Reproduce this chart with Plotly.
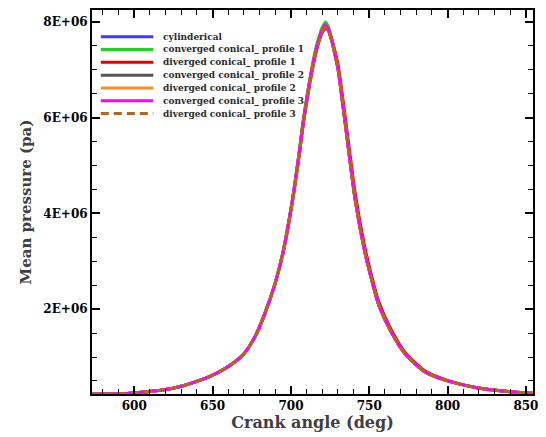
import plotly.graph_objects as go

# Crank angle samples (deg)
crank_angle = [573, 585, 600, 620, 630, 640, 650, 660, 670, 677, 683, 690, 695, 701, 705,
               708, 713, 716, 718, 720, 722, 724, 726, 728, 730, 734, 741, 747, 751, 756,
               764, 773, 786, 800, 817, 835, 850, 855]

# Mean in-cylinder pressure for each geometry, in units of 1E+06 Pa
cylinderical = [0.22, 0.23, 0.25, 0.32, 0.39, 0.49, 0.62, 0.80, 1.07, 1.42, 1.88, 2.55, 3.20, 4.29, 5.20,
                5.95, 6.95, 7.42, 7.66, 7.83, 7.92, 7.83, 7.62, 7.34, 7.03, 6.05, 4.29, 3.22, 2.68, 2.09,
                1.52, 1.06, 0.68, 0.50, 0.37, 0.29, 0.25, 0.24]
conv_profile_1 = [0.22, 0.23, 0.25, 0.32, 0.39, 0.49, 0.62, 0.80, 1.07, 1.42, 1.88, 2.55, 3.20, 4.30, 5.22,
                  5.98, 6.99, 7.47, 7.70, 7.89, 8.00, 7.90, 7.66, 7.37, 7.05, 6.06, 4.30, 3.22, 2.68, 2.09,
                  1.52, 1.06, 0.68, 0.50, 0.37, 0.29, 0.25, 0.24]
div_profile_1 = [0.22, 0.23, 0.25, 0.32, 0.39, 0.49, 0.62, 0.80, 1.07, 1.42, 1.88, 2.55, 3.18, 4.25, 5.14,
                 5.88, 6.88, 7.36, 7.60, 7.78, 7.86, 7.82, 7.64, 7.40, 7.12, 6.18, 4.42, 3.32, 2.76, 2.16,
                 1.57, 1.09, 0.70, 0.51, 0.37, 0.29, 0.25, 0.24]
conv_profile_2 = [0.22, 0.23, 0.25, 0.32, 0.39, 0.49, 0.62, 0.80, 1.07, 1.42, 1.88, 2.55, 3.20, 4.29, 5.19,
                  5.94, 6.94, 7.41, 7.64, 7.81, 7.90, 7.81, 7.61, 7.33, 7.03, 6.05, 4.29, 3.22, 2.68, 2.09,
                  1.52, 1.06, 0.68, 0.50, 0.37, 0.29, 0.25, 0.24]
div_profile_2 = [0.22, 0.23, 0.25, 0.32, 0.39, 0.49, 0.62, 0.80, 1.07, 1.42, 1.88, 2.55, 3.20, 4.29, 5.20,
                 5.95, 6.95, 7.42, 7.65, 7.82, 7.91, 7.82, 7.62, 7.34, 7.03, 6.05, 4.29, 3.22, 2.68, 2.09,
                 1.52, 1.06, 0.68, 0.50, 0.37, 0.29, 0.25, 0.24]
conv_profile_3 = [0.22, 0.23, 0.25, 0.32, 0.39, 0.49, 0.62, 0.80, 1.07, 1.42, 1.88, 2.55, 3.20, 4.29, 5.20,
                  5.95, 6.95, 7.42, 7.66, 7.84, 7.94, 7.84, 7.62, 7.34, 7.03, 6.05, 4.29, 3.22, 2.68, 2.09,
                  1.52, 1.06, 0.68, 0.50, 0.37, 0.29, 0.25, 0.24]
div_profile_3 = [0.22, 0.23, 0.25, 0.32, 0.39, 0.49, 0.62, 0.80, 1.07, 1.42, 1.88, 2.55, 3.20, 4.28, 5.18,
                 5.93, 6.92, 7.39, 7.62, 7.80, 7.89, 7.80, 7.60, 7.33, 7.03, 6.05, 4.29, 3.22, 2.68, 2.09,
                 1.52, 1.06, 0.68, 0.50, 0.37, 0.29, 0.25, 0.24]

series_names = ["cylinderical", "converged conical_ profile 1", "diverged conical_ profile 1",
                "converged conical_ profile 2", "diverged conical_ profile 2",
                "converged conical_ profile 3", "diverged conical_ profile 3"]
series_values = [cylinderical, conv_profile_1, div_profile_1, conv_profile_2,
                 div_profile_2, conv_profile_3, div_profile_3]
series_colors = ["#3b3bff", "#1ed41e", "#e00000", "#555555", "#ff8c1a", "#ff00ff", "#b5651d"]
series_dash = ["solid"] * 6 + ["8px,5px"]

y_tick_vals = [2e6, 4e6, 6e6, 8e6]
y_tick_text = ["2E+06", "4E+06", "6E+06", "8E+06"]

FONT = "DejaVu Serif"

fig = go.Figure()
for name, vals, col, dash in zip(series_names, series_values, series_colors, series_dash):
    fig.add_trace(go.Scatter(
        x=crank_angle, y=[v * 1e6 for v in vals], mode="lines", name=name,
        line=dict(color=col, width=3, dash=dash, shape="spline", smoothing=0.7),
        showlegend=False,
    ))

# Compact legend block in the upper-left corner of the plot area
leg_x0, leg_x1, leg_tx = 0.020, 0.139, 0.157
leg_y0, leg_dy = 0.9306, 0.0334
for i, (name, col, dash) in enumerate(zip(series_names, series_colors, series_dash)):
    yy = leg_y0 - i * leg_dy
    fig.add_shape(type="line", xref="paper", yref="paper", x0=leg_x0, x1=leg_x1, y0=yy, y1=yy,
                  line=dict(color=col, width=3, dash=dash))
    fig.add_annotation(xref="paper", yref="paper", x=leg_tx, y=yy, text=name, showarrow=False,
                       xanchor="left", yanchor="middle",
                       font=dict(family=FONT, size=9, color="#2a2a2a", weight="bold"))

axis_common = dict(
    showline=True, linecolor="black", linewidth=2, mirror="ticks",
    ticks="inside", ticklen=8, tickwidth=2, tickcolor="black",
    showgrid=False, zeroline=False,
    tickfont=dict(family=FONT, size=12, color="black", weight="bold"),
)

fig.update_layout(
    width=546, height=437,
    margin=dict(l=92, r=8, t=8, b=40),
    paper_bgcolor="white", plot_bgcolor="white",
    xaxis=dict(
        range=[573, 854.5], tickmode="linear", tick0=600, dtick=50,
        minor=dict(dtick=10, ticklen=5, tickwidth=1, tickcolor="black", ticks="inside"),
        title=dict(text="Crank angle (deg)", standoff=4,
                   font=dict(family=FONT, size=16, color="#404040", weight="bold")),
        **axis_common,
    ),
    yaxis=dict(
        range=[0.227e6, 8.25e6], tickmode="array", tickvals=y_tick_vals, ticktext=y_tick_text,
        minor=dict(tickmode="linear", tick0=0, dtick=5e5, ticklen=5, tickwidth=1,
                   tickcolor="black", ticks="inside"),
        title=dict(text="Mean pressure (pa)", standoff=8,
                   font=dict(family=FONT, size=15, color="#404040", weight="bold")),
        **axis_common,
    ),
)

fig.write_html("out.html")
